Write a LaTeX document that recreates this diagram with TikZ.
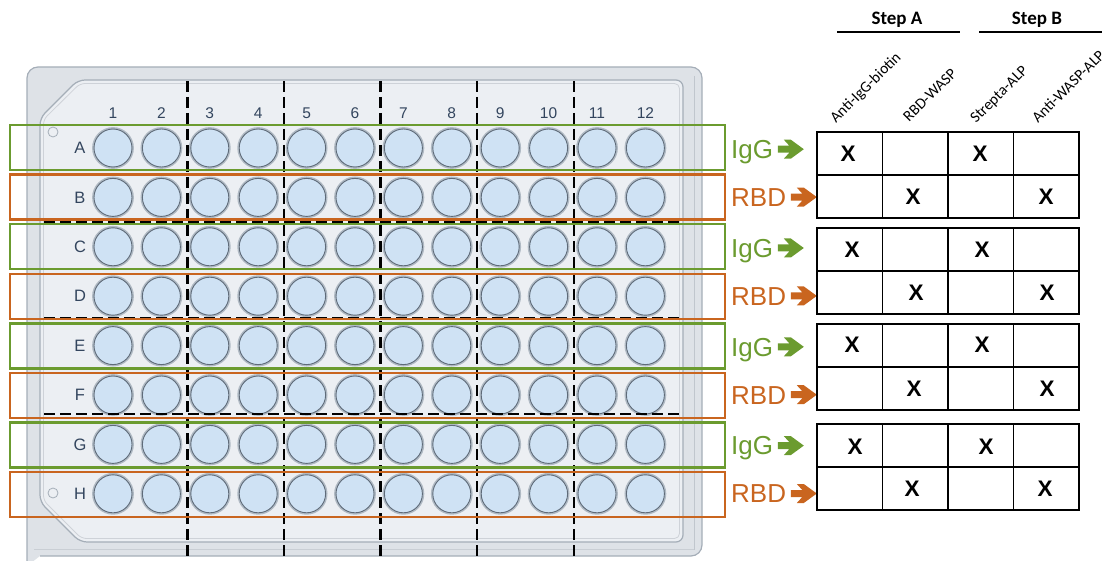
\documentclass[tikz,border=0pt]{standalone}
\usepackage{fontspec}
\setmainfont{Liberation Sans}
\newfontfamily\carlito{Carlito}
\usetikzlibrary{calc}
\definecolor{plateout}{HTML}{DEE2E7}
\definecolor{platein}{HTML}{ECEFF3}
\definecolor{plateedge}{HTML}{A5AEB8}
\definecolor{wellfillc}{HTML}{CFE2F4}
\definecolor{wellringc}{HTML}{B0BAC4}
\definecolor{welledgec}{HTML}{5F6B79}
\definecolor{labtxt}{HTML}{33455E}
\definecolor{igggreen}{HTML}{6B9B2F}
\definecolor{rbdorange}{HTML}{C9651F}
\begin{document}
\begin{tikzpicture}[x=1pt,y=-1pt,
  well/.style={circle, minimum size=38pt, inner sep=0pt, fill=wellfillc, draw=welledgec, line width=0.9pt,
    preaction={draw=wellringc, line width=3.8pt}},
  rowlab/.style={text=labtxt, font=\fontsize{16.5}{18}\selectfont, inner sep=0pt},
  collab/.style={text=labtxt, font=\fontsize{15.5}{17}\selectfont, inner sep=0pt},
  rowbox/.style={draw, line width=2.4pt, minimum width=715pt, minimum height=45pt, inner sep=0pt},
  tag/.style={font=\fontsize{26}{28}\selectfont, inner sep=0pt, anchor=base west},
  divline/.style={line width=2.8pt, black, dash pattern=on 11pt off 5pt},
  cell/.style={draw=black, line width=1.2pt, minimum width=65.5pt, minimum height=43pt, inner sep=0pt},
  xmark/.style={font=\fontsize{22.5}{24}\selectfont\bfseries, inner sep=0pt},
  hdr/.style={font=\carlito\fontsize{15.5}{17}\selectfont, inner sep=0pt, rotate=45, anchor=base west},
  steplab/.style={font=\carlito\bfseries\fontsize{19}{21}\selectfont, inner sep=0pt, anchor=base},
  bigarrow/.pic={\fill (0,-3.5) -- (11.5,-3.5) -- (6,-9.5) -- (13,-9.5) -- (26,0) -- (13,9.5) -- (6,9.5) -- (11.5,3.5) -- (0,3.5) -- cycle;}
]
\useasboundingbox (0,0) rectangle (1113,561);
% ---------- plate ----------
\draw[fill=plateout, draw=plateedge, line width=1.2pt, rounded corners=11pt]
  (27,566) -- (27,67) -- (702,67) -- (702,556) -- (40,556);
\draw[plateedge!70, line width=0.9pt] (694,76) -- (694,550);
\draw[plateedge!60, line width=0.9pt] (34,549) -- (694,549);
\draw[fill=platein, draw=plateedge, line width=1.2pt, rounded corners=7pt]
  (78,80) -- (683,80) -- (683,542) -- (80,542) -- (40,502) -- (40,118) -- cycle;
\draw[plateedge!55, line width=0.8pt, rounded corners=5pt]
  (80,83.5) -- (679.5,83.5) -- (679.5,538.5) -- (81.5,538.5) -- (43.5,500.5) -- (43.5,119.5) -- cycle;
\node[circle, draw=plateedge, fill=platein, line width=0.8pt, minimum size=10pt, inner sep=0pt] (dotA) at (53,132) {};
\node[circle, draw=plateedge, fill=platein, line width=0.8pt, minimum size=10pt, inner sep=0pt] (dotH) at (53,493) {};
% ---------- labels ----------
\foreach \c in {1,...,12}
  \node[collab] (col\c) at ({113+48.4*(\c-1)},113.5) {\c};
\foreach \r [count=\i from 0] in {A,B,C,D,E,F,G,H}
  \node[rowlab] (row\r) at (80,{148+49.4*\i}) {\r};
% ---------- wells ----------
\foreach \r [count=\i from 0] in {A,B,C,D,E,F,G,H}
  \foreach \c in {1,...,12}
    \node[well] (w\r\c) at ({113+48.4*(\c-1)},{148+49.4*\i}) {};
% ---------- dividers ----------
\foreach \x [count=\k] in {187.5,284,380.5,477,574}
  \draw[divline] (\x,81) -- (\x,556);
\foreach \y in {222,318,414}
  \draw[divline] (44,\y) -- (681,\y);
% ---------- row boxes ----------
\foreach \r/\cl [count=\i from 0] in {A/igggreen,B/rbdorange,C/igggreen,D/rbdorange,E/igggreen,F/rbdorange,G/igggreen,H/rbdorange}
  \node[rowbox, draw=\cl] (box\r) at (367.5,{147.5+49.6*\i}) {};
% ---------- IgG / RBD tags ----------
\foreach \r [count=\i from 0] in {A,C,E,G}{
  \node[tag, text=igggreen] (tag\r) at (731,{158.5+98.8*\i}) {IgG};
  \pic[color=igggreen] at ($(tag\r.base east)+(4.5,-9.3)$) {bigarrow};
}
\foreach \r [count=\i from 0] in {B,D,F,H}{
  \node[tag, text=rbdorange] (tag\r) at (731,{206.4+98.8*\i}) {RBD};
  \pic[color=rbdorange] at ($(tag\r.base east)+(4.5,-9.3)$) {bigarrow};
}
% ---------- headers ----------
\node[steplab] (stepA) at (897,25) {Step A};
\node[steplab] (stepB) at (1037,25) {Step B};
\coordinate (sA1) at (837,32); \coordinate (sA2) at (960,32);
\coordinate (sB1) at (979,32); \coordinate (sB2) at (1102,32);
\draw[line width=1.3pt] (sA1) -- (sA2);
\draw[line width=1.3pt] (sB1) -- (sB2);
\node[hdr] (h1) at (836,124) {Anti-IgG-biotin};
\node[hdr] (h2) at (909,123) {RBD-WASP};
\node[hdr] (h3) at (976,124) {Strepta-ALP};
\node[hdr] (h4) at (1038,124) {Anti-WASP-ALP};
% ---------- tables ----------
\foreach \g/\T in {1/132,2/228,3/324,4/424}
  \foreach \r in {1,2}
    \foreach \k in {1,...,4}
      \node[cell] (c\g-\r-\k) at ({817+65.5*(\k-0.5)},{\T+43*(\r-0.5)}) {};
\foreach \p [count=\n] in {(848,154),(980,154),(913,197),(1046,197),
                           (852,250),(982,250),(916,293),(1047,293),
                           (852,345),(982,345),(914,389),(1047,389),
                           (855,447),(986,447),(912,489),(1045,489)}
  \node[xmark] (x\n) at \p {X};
\end{tikzpicture}
\end{document}
